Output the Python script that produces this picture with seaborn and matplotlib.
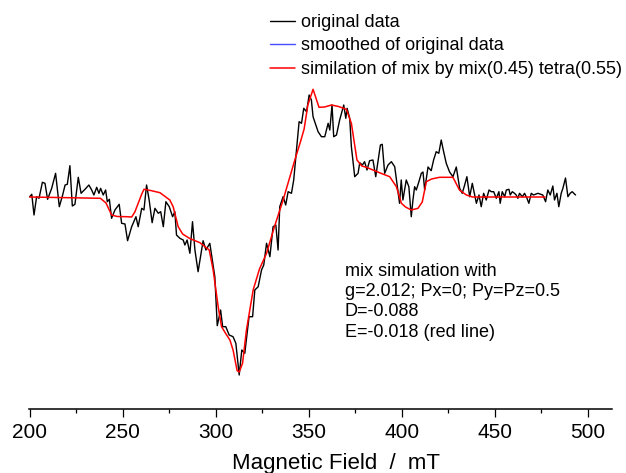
import numpy as np
import pandas as pd
import matplotlib
matplotlib.use("Agg")
import matplotlib.pyplot as plt
import seaborn as sns
from matplotlib.ticker import MultipleLocator

# ---- data (intensity in arbitrary units) ----
orig_field = [200.0, 201.1, 202.3, 203.7, 205.0, 206.8, 208.2, 209.6, 211.8, 213.9,
              215.9, 217.7, 219.0, 220.2, 221.6, 222.9, 224.3, 226.1, 227.6, 229.7,
              231.8, 233.3, 234.5, 236.0, 237.2, 238.1, 239.5, 240.8, 241.7, 242.8,
              244.0, 245.8, 248.1, 249.4, 251.2, 252.6, 254.8, 257.1, 258.3, 260.2,
              261.4, 262.8, 264.2, 265.8, 267.3, 269.1, 270.4, 271.8, 273.2, 275.0,
              276.8, 278.0, 278.9, 280.7, 282.5, 283.4, 284.6, 286.1, 287.5, 288.8,
              290.5, 293.2, 294.7, 296.8, 299.5, 300.8, 302.6, 303.7, 305.4, 307.2,
              309.3, 310.8, 312.6, 314.0, 315.6, 317.9, 319.8, 321.0, 322.8, 324.6,
              325.8, 327.3, 329.1, 330.8, 332.3, 333.5, 334.4, 336.2, 337.6, 338.9,
              340.7, 341.9, 343.4, 344.8, 346.1, 347.3, 348.8, 350.2, 351.4, 352.3,
              355.0, 356.8, 358.6, 360.4, 361.3, 362.5, 363.4, 364.9, 366.6, 368.8,
              369.9, 370.6, 372.0, 372.9, 374.7, 376.5, 377.4, 378.8, 380.0, 381.3,
              382.7, 384.5, 386.0, 387.2, 388.5, 389.5, 390.8, 392.6, 394.4, 396.2,
              397.4, 398.8, 399.7, 400.6, 402.4, 403.8, 405.1, 406.0, 406.9, 407.8,
              409.2, 410.5, 411.4, 412.3, 414.1, 415.8, 417.1, 418.5, 419.9, 421.2,
              422.1, 423.9, 425.7, 427.5, 429.3, 431.1, 432.5, 433.8, 435.0, 436.5,
              437.9, 440.1, 441.5, 442.7, 444.0, 445.4, 446.9, 448.1, 449.4, 450.8,
              452.2, 452.9, 454.0, 455.3, 456.2, 457.6, 458.3, 459.4, 460.6, 461.5,
              462.4, 463.3, 464.8, 466.0, 467.3, 468.3, 469.6, 470.8, 473.2, 475.8,
              477.3, 478.5, 479.8, 481.2, 482.1, 483.4, 484.4, 485.7, 486.6, 488.0,
              489.3, 490.5, 491.6, 493.4]
orig_signal = [0.3, 2.7, -18, 0.3, -1.3, 14.7, 13.7, -2.3, 8.7, 23.7,
               -9.7, 2, 12, 12.7, 31.3, -9, -7.3, 19.7, 3.7, 7.7,
               12, 7, 2, 9.7, 3.7, 8.7, 2, 7, -4.7, -2.3,
               -21.3, -13, -7.3, -26.3, -27, -43.7, -29.7, -19.7, -29.7, -11.3,
               -13, 12, -3, -25.7, -11.3, -16.3, -14.7, -29.7, -4.7, -9.7,
               -19.7, -14.7, -38, -41.3, -43, -48, -43, -56.3, -24.7, -53,
               -74.7, -43.7, -53, -46.3, -79.7, -128.7, -113, -129.7, -129.7, -138,
               -139.7, -146.3, -178, -153, -156.3, -119.7, -119.7, -93, -89.7, -73,
               -68, -46.3, -59.7, -29.7, -28, -53, -9.7, 0.3, -8, 5.3,
               3.7, 17, 47, 75.3, 73.7, 88.7, 85.3, 102, 97, 80.3,
               65.3, 60.3, 60.3, 73.7, 67, 92, 60.3, 62, 77, 92,
               78.7, 88.7, 78.7, 50.3, 20.3, 23.7, 34.3, 32, 35.3, 27,
               36.3, 37, 20.3, 35.3, 52, 52.7, 23.7, 32, 35.3, 30.3,
               13.7, -6.3, 17, -3, 17, 10.3, -19.7, -3, 10.3, 7,
               15.3, 23.7, 25, 7, 30, 26.3, 37, 45.3, 43.7, 57,
               48.7, 33.7, 25, 20.3, 30, 8.7, 3.7, 12, 20.3, 0.3,
               13.7, -6.3, 2, -9.7, 3.7, -3, 7, 5.3, 5.3, -1.3,
               5.3, -6.3, 5.3, 0.3, 7, 7.7, 2, 5.3, 3.7, 2,
               -1.3, 3.7, 0.3, 3.7, -1.3, -6.3, 3.7, 2, 3.7, 2,
               -4.7, 7, 2, 11, -3, 3.7, -9.7, 3.7, 8.7, 19,
               0.3, 3.7, 5.3, 2]

sim_field = [200, 238, 241, 244, 247, 252, 254.8, 256.5, 258.3, 260, 261.4, 265, 270,
             275.3, 277.1, 279.8, 282.2, 286, 291.5, 296.5, 298.6, 301.3, 303.1,
             305.5, 307.6, 309.3, 311.5, 312.6, 314.4, 316.5, 320.1, 323.5, 327.3,
             331.5, 336.2, 342.5, 345.5, 347.5, 349.5, 352.3, 355.5, 358.5, 362.2,
             366, 370.2, 372.9, 375.9, 378.5, 381, 388, 393.5, 397.1, 399.8, 402,
             405.1, 408.7, 411, 413.2, 416, 420.3, 427.5, 431, 434.7, 438, 477]
sim_signal = [0, -1.3, -6, -18, -19.5, -19.7, -20, -15, -6.3, 2, 7.7, 6.5, 4.3,
              -3, -9.7, -29.7, -37, -41.5, -45.7, -53, -73, -109.7, -129.7,
              -137, -143, -153, -173.7, -175, -166.3, -133, -93, -72, -56.3,
              -30, -3, 37, 55, 68, 92, 107.7, 89.7, 90, 92,
              90.5, 87.7, 73.7, 37, 31, 29.7, 24.3, 20.3, 10.3, -6.3, -10,
              -13, -11.3, -5, 15.3, 18, 19.7, 19.7, 7, 2, 0, 0]

smooth_field = []
smooth_signal = []

labels = ["original data", "smoothed of original data",
          "similation of mix by mix(0.45) tetra(0.55)"]
x_ticks = [200, 250, 300, 350, 400, 450, 500]
note_lines = ["mix simulation with", "g=2.012; Px=0; Py=Pz=0.5",
              "D=-0.088", "E=-0.018 (red line)"]

# ---- figure ----
sns.set_theme(style="white")
plt.rcParams["font.family"] = ["Liberation Sans", "DejaVu Sans"]
plt.rcParams["text.color"] = "black"
plt.rcParams["axes.labelcolor"] = "black"
plt.rcParams["xtick.color"] = "black"

W, H = 626, 473
fig = plt.figure(figsize=(W / 100, H / 100), dpi=100)
left_px, right_px, bottom_px = 28.8, 612.0, 409.0
ax = fig.add_axes([left_px / W, (H - bottom_px) / H,
                   (right_px - left_px) / W, bottom_px / H])

df_orig = pd.DataFrame({"field": orig_field, "signal": orig_signal})
df_sim = pd.DataFrame({"field": sim_field, "signal": sim_signal})

sns.lineplot(data=df_orig, x="field", y="signal", color="black", lw=1.0,
             estimator=None, sort=False, ax=ax, label=labels[0])
ax.plot(smooth_field, smooth_signal, color="#4a4aff", lw=1.0, label=labels[1])
sns.lineplot(data=df_sim, x="field", y="signal", color="#ff0000", lw=1.1,
             estimator=None, sort=False, ax=ax, label=labels[2])

ax.set_xlim(199.5, 513)
ax.set_ylim(-212, 197)

for s in ["top", "right", "left"]:
    ax.spines[s].set_visible(False)
ax.spines["bottom"].set_color("black")
ax.spines["bottom"].set_linewidth(1.1)
ax.set_yticks([])
ax.set_ylabel("")
ax.set_xticks(x_ticks)
ax.set_xticklabels([str(t) for t in x_ticks])
ax.xaxis.set_minor_locator(MultipleLocator(25))
ax.tick_params(axis="x", which="major", direction="out", length=6, width=0.9,
               color="black", labelcolor="black", labelsize=15, pad=4, bottom=True)
ax.tick_params(axis="x", which="minor", direction="out", length=3, width=0.9,
               color="black", bottom=True)
ax.set_xlabel("Magnetic Field  /  mT", fontsize=16, color="black")
ax.xaxis.set_label_coords((336.5 - left_px) / (right_px - left_px), -0.108)

leg = ax.legend(loc="upper left", bbox_to_anchor=(270 / W, 1 - 14 / H),
                bbox_transform=fig.transFigure, frameon=False, fontsize=13,
                handlelength=1.4, handletextpad=0.32, labelspacing=0.36,
                borderpad=0, borderaxespad=0)
for t in leg.get_texts():
    t.set_color("black")

fig.text(345 / W, 1 - 263 / H, "\n".join(note_lines), fontsize=13,
         va="top", ha="left", linespacing=1.25, color="black")

fig.savefig("out.png", dpi=100)
